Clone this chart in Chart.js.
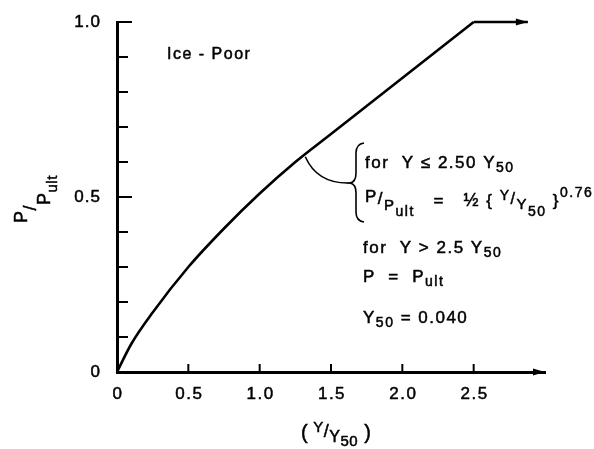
<!DOCTYPE html>
<html lang="en">
<head>
<meta charset="UTF-8">
<title>Ice - Poor P/Pult curve</title>
<script src="https://cdn.jsdelivr.net/npm/chart.js"></script>
<style>
  body { margin: 0; background: #fff; }
  .wrap { width: 594px; height: 449px; }
</style>
</head>
<body>
<div class="wrap"><canvas id="chart" width="594" height="449"></canvas></div>
<script>
// values
const ratioX = [0, 0.1, 0.25, 0.5, 0.75, 1.0, 1.25, 1.5, 1.75, 2.0, 2.25, 2.5];
const ratioP = [0, 0.08, 0.17, 0.30, 0.41, 0.51, 0.60, 0.68, 0.76, 0.84, 0.92, 1.0];
const flatX = [2.5, 2.88];
const flatP = [1.0, 1.0];
const xTicks = [0, 0.5, 1.0, 1.5, 2.0, 2.5];
const yTicks = [0, 0.1, 0.2, 0.3, 0.4, 0.5, 0.6, 0.7, 0.8, 0.9, 1.0];
const yLabels = [0, 0.5, 1.0];

const FONT = '"Liberation Sans", Arial, sans-serif';

function fmt(v) { return v === 0 ? '0' : v.toFixed(1); }

// text with a thin outline so it looks as heavy as the scan
function put(ctx, t, x, y) {
  ctx.fillText(t, x, y);
  ctx.strokeText(t, x, y);
}

// draws text pieces one after another: [text, size, dy]
function rich(ctx, parts, x, y, spacing) {
  ctx.textAlign = 'left';
  ctx.textBaseline = 'alphabetic';
  ctx.letterSpacing = (spacing || 0) + 'px';
  for (const [t, s, dy] of parts) {
    ctx.font = s + 'px ' + FONT;
    put(ctx, t, x, y + (dy || 0));
    x += ctx.measureText(t).width;
  }
  ctx.letterSpacing = '0px';
  return x;
}

function arrowRight(ctx, x, y) {
  ctx.beginPath();
  ctx.moveTo(x, y);
  ctx.lineTo(x - 12, y - 3.5);
  ctx.lineTo(x - 12, y + 3.5);
  ctx.closePath();
  ctx.fill();
}

const decor = {
  id: 'decor',
  afterDraw(chart) {
    const ctx = chart.ctx;
    const xs = chart.scales.x, ys = chart.scales.y;
    const x0 = xs.getPixelForValue(0), y0 = ys.getPixelForValue(0);
    ctx.save();
    ctx.fillStyle = '#000';
    ctx.strokeStyle = '#000';

    // inward ticks on y
    ctx.lineWidth = 2;
    yTicks.forEach(v => {
      if (v === 0) return;
      const py = ys.getPixelForValue(v);
      const len = (v === 0.5 || v === 1.0) ? 15 : 11;
      ctx.beginPath(); ctx.moveTo(x0, py); ctx.lineTo(x0 + len, py); ctx.stroke();
    });
    // inward ticks on x
    xTicks.forEach(v => {
      if (v === 0) return;
      const px = xs.getPixelForValue(v);
      ctx.beginPath(); ctx.moveTo(px, y0); ctx.lineTo(px, y0 - 8); ctx.stroke();
    });

    ctx.lineWidth = 0.5;
    // tick labels
    ctx.font = '17px ' + FONT;
    ctx.letterSpacing = '1px';
    ctx.textAlign = 'right'; ctx.textBaseline = 'middle';
    yLabels.forEach(v => put(ctx, fmt(v), x0 - 16, ys.getPixelForValue(v)));
    ctx.letterSpacing = '1.5px';
    ctx.textAlign = 'center'; ctx.textBaseline = 'top';
    xTicks.forEach(v => put(ctx, fmt(v), xs.getPixelForValue(v) + 1, y0 + 14));
    ctx.letterSpacing = '0px';

    // arrows: end of x axis and end of flat line
    arrowRight(ctx, xs.getPixelForValue(3.0), y0);
    arrowRight(ctx, xs.getPixelForValue(flatX[1]), ys.getPixelForValue(flatP[1]));

    // axis titles
    ctx.save();
    ctx.translate(27, 223);
    ctx.rotate(-Math.PI / 2);
    rich(ctx, [['P', 18], ['/', 18, 9], ['P', 18, 23], ['ult', 15, 30]], 0, 0, 0.5);
    ctx.restore();
    let tx = rich(ctx, [['( ', 20]], 301, 439);
    rich(ctx, [['Y', 15, -7], ['/', 18, -2], ['Y', 16, 3], ['50', 15, 7], [' )', 20]], tx, 439, 0.5);

    // annotation text
    rich(ctx, [['Ice - Poor', 16]], 167, 59, 1.5);
    rich(ctx, [['for  Y \u2264 2.50 Y', 17], ['50', 14, 4]], 365, 168, 1.5);
    rich(ctx, [['P', 17, -4], ['/', 17, -2], ['P', 15, 4], ['ult', 14, 10], ['   =   ', 17], ['\u00BD', 18], [' { ', 17], ['Y', 14, -6], ['/', 16, -2], ['Y', 15, 3], ['50', 14, 10], [' }', 17], ['0.76', 14, -9]], 365, 206, 1.5);
    rich(ctx, [['for  Y > 2.5 Y', 17], ['50', 14, 4]], 363, 253, 1.5);
    rich(ctx, [['P  =  P', 17], ['ult', 14, 4]], 363, 282, 1.5);
    rich(ctx, [['Y', 17], ['50', 14, 4], [' = 0.040', 17]], 363, 323, 1.5);

    // brace
    ctx.lineWidth = 1.6;
    ctx.beginPath();
    ctx.moveTo(364, 143);
    ctx.quadraticCurveTo(356, 144, 356, 153);
    ctx.lineTo(356, 173);
    ctx.quadraticCurveTo(356, 182, 350, 183);
    ctx.quadraticCurveTo(356, 184, 356, 193);
    ctx.lineTo(356, 212);
    ctx.quadraticCurveTo(356, 221, 364, 222);
    ctx.stroke();

    // leader from curve to brace
    const ax = xs.getPixelForValue(1.32), ay = ys.getPixelForValue(0.615);
    ctx.beginPath();
    ctx.moveTo(ax, ay);
    ctx.quadraticCurveTo(ax + 12, 184, 350, 183);
    ctx.stroke();
    ctx.restore();
  }
};

new Chart(document.getElementById('chart'), {
  type: 'scatter',
  data: {
    datasets: [
      {
        data: ratioX.map((x, i) => ({ x: x, y: ratioP[i] })),
        showLine: true,
        borderColor: '#000',
        borderWidth: 2.6,
        pointRadius: 0,
        cubicInterpolationMode: 'monotone',
        clip: false
      },
      {
        data: flatX.map((x, i) => ({ x: x, y: flatP[i] })),
        showLine: true,
        borderColor: '#000',
        borderWidth: 2.6,
        pointRadius: 0,
        clip: false
      }
    ]
  },
  options: {
    responsive: false,
    animation: false,
    layout: { padding: { left: 117, top: 22, right: 49, bottom: 77 } },
    plugins: { legend: { display: false }, tooltip: { enabled: false } },
    scales: {
      x: {
        type: 'linear', min: 0, max: 3.0,
        grid: { display: false, drawTicks: false },
        border: { display: true, color: '#000', width: 3 },
        ticks: { display: false }
      },
      y: {
        type: 'linear', min: 0, max: 1.0,
        grid: { display: false, drawTicks: false },
        border: { display: true, color: '#000', width: 3 },
        ticks: { display: false }
      }
    }
  },
  plugins: [decor]
});
</script>
</body>
</html>
